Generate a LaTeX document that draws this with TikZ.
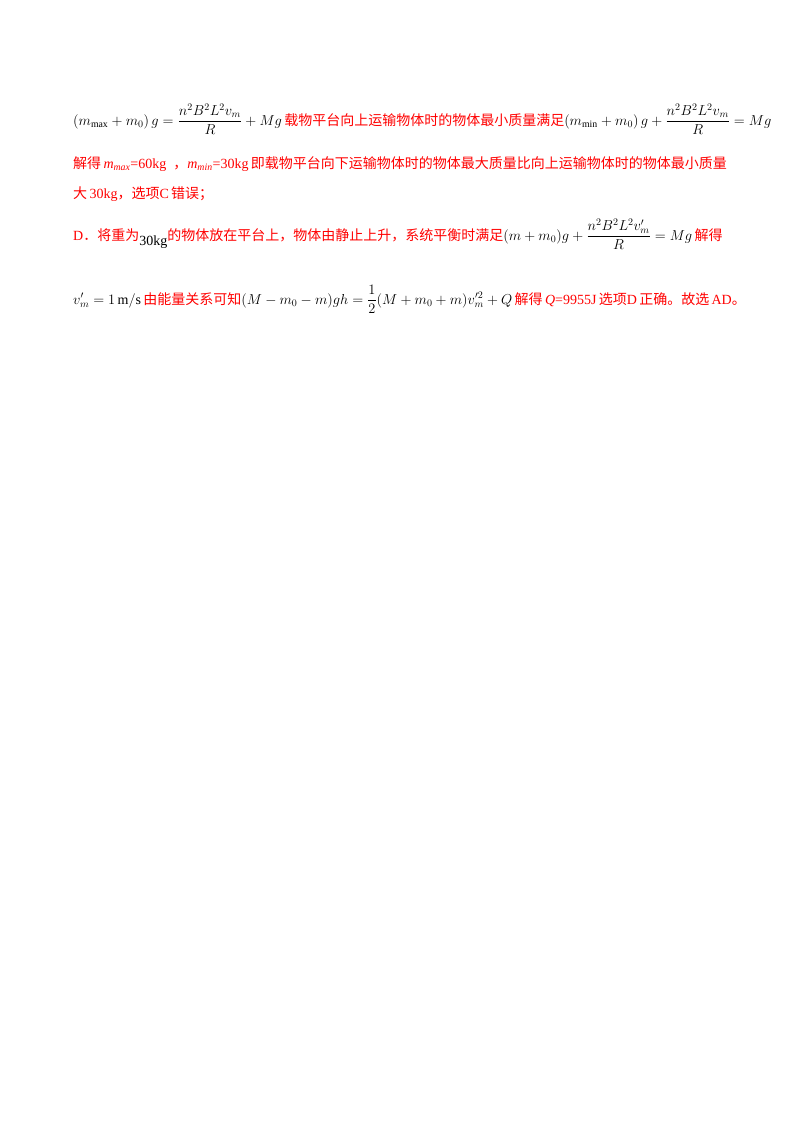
\documentclass[tikz,border=0pt]{standalone}
\usepackage{fontspec}
\setmainfont{Liberation Serif}
\newfontfamily\cjk{Noto Sans CJK SC}
\usepackage{amsmath}
\begin{document}
\begin{tikzpicture}[x=1pt,y=-1pt,
  ln/.style={anchor=base west,inner sep=0pt,font=\fontsize{14}{17}\selectfont},
  rd/.style={text=red}]
\useasboundingbox[fill=white] (0,0) rectangle (800,1132);
\node[ln] (l1) at (73,125) {$\left(m_{\max}+m_0\right)g=\dfrac{n^2B^2L^2v_m}{R}+Mg$\,\textcolor{red}{\cjk 载物平台向上运输物体时的物体最小质量满足}$\left(m_{\min}+m_0\right)g+\dfrac{n^2B^2L^2v_m}{R}=Mg$};
\node[ln,rd] (l2) at (73,168) {{\cjk 解得}\,\textit{m\textsubscript{max}}=60kg\ \ {\cjk ，}\textit{m\textsubscript{min}}=30kg\,{\cjk 即载物平台向下运输物体时的物体最大质量比向上运输物体时的物体最小质量}};
\node[ln,rd] (l3) at (73,198) {{\cjk 大}\,30kg{\cjk ，选项}C\,{\cjk 错误；}};
\node[ln] (l4) at (73,240) {\textcolor{red}{D{\cjk ．将重为}}\raisebox{-5pt}{30kg}\textcolor{red}{\cjk 的物体放在平台上，物体由静止上升，系统平衡时满足}$(m+m_0)g+\dfrac{n^2B^2L^2v_m'}{R}=Mg$\,\textcolor{red}{\cjk 解得}};
\node[ln] (l5) at (73,304) {$v_m'=1\,\mathrm{m/s}$\,\textcolor{red}{\cjk 由能量关系可知}$(M-m_0-m)gh=\dfrac12(M+m_0+m)v_m'^2+Q$\,\textcolor{red}{{\cjk 解得}\,\textit{Q}=9955J\,{\cjk 选项}D\,{\cjk 正确。故选}\,AD{\cjk 。}}};
\end{tikzpicture}
\end{document}
